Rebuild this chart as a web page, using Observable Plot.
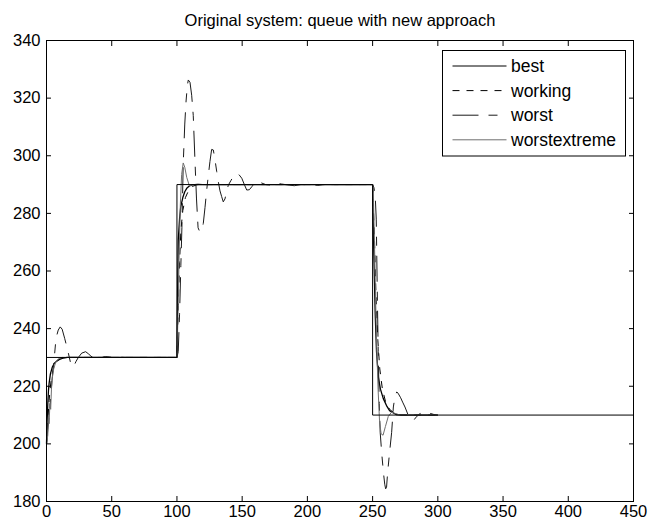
<!DOCTYPE html>
<html>
<head>
<meta charset="utf-8">
<script src="https://cdn.jsdelivr.net/npm/d3@7"></script>
<script src="https://cdn.jsdelivr.net/npm/@observablehq/plot@0.6"></script>
<style>
  html, body { margin: 0; padding: 0; background: #fff; }
  #chart { width: 651px; height: 524px; }
</style>
</head>
<body>
<div id="chart"></div>
<script>
// ---------- data ----------
const chartTitle = "Original system: queue with new approach";
const xTicks = [0, 50, 100, 150, 200, 250, 300, 350, 400, 450];
const yTicks = [180, 200, 220, 240, 260, 280, 300, 320, 340];
const seriesNames = ["best", "working", "worst", "worstextreme"];

// reference set-point (unlabelled fifth line)
const referencePts = [[0, 230], [100, 230], [100, 290], [250, 290], [250, 210], [450, 210]];

const bestPts = [
  [0, 200], [0.5, 208], [1, 214], [1.5, 218.5], [2, 221], [3, 224.3], [4.5, 226.7], [6, 228],
  [8, 228.8], [10, 229.3], [13, 229.8], [16, 230], [100, 230],
  [100.5, 252], [101, 270.7], [102, 278], [102.9, 282.3], [104.5, 285.5], [106, 287.5],
  [107.5, 288.7], [109.5, 289.5], [112.5, 290], [250, 290],
  [251, 265], [252, 245], [253, 232], [254.4, 223.2], [256, 219], [258.2, 215.7], [261, 213],
  [263, 211.5], [265.9, 210.7], [268, 210.2], [272, 210], [300, 210]
];

const workingPts = [
  [0, 200], [1, 208], [2, 215], [3, 220], [4, 223.5], [5.5, 226.5], [7.5, 228.5], [10, 229.5],
  [14, 230], [100, 230],
  [101, 248], [102, 263], [103, 274], [104.5, 281], [106.5, 285.5], [109, 288], [112, 289.4],
  [116, 290], [250, 290],
  [251.5, 270], [252.7, 250], [254, 236], [255.5, 226], [257.5, 219], [260, 214.5], [263, 212],
  [266.5, 210.7], [271, 210], [300, 210]
];

const worstPts = [
  [0, 200], [1, 205], [2.5, 212], [4.2, 222], [5.9, 229.6], [7.3, 236.7], [9, 239.5], [10.5, 240.6],
  [12, 239.8], [14, 236.5], [16.5, 232], [18.5, 228], [19.8, 226.7], [21, 227], [22.5, 228.5],
  [24.4, 230], [27, 231.5], [30, 232], [32, 231.3], [34, 230.5], [36, 229.8], [38, 229.6],
  [41, 229.9], [45, 230.3], [48, 230.2], [52, 229.9], [56, 230.1], [60, 230], [100, 230],
  [101, 232], [102, 245], [103, 262], [103.8, 275], [104.8, 297], [106, 311], [107, 319],
  [108, 324.5], [108.7, 326.3], [110, 325.5], [111.3, 321], [112.5, 314], [113.8, 298.5],
  [115, 285], [116.2, 275], [117.5, 273.6], [119, 274], [120.2, 276.5], [121.5, 282],
  [122.8, 288.1], [124.1, 293.3], [125.3, 298], [126.6, 302.2], [127.9, 302], [129.2, 298.5],
  [130.5, 294.5], [131.7, 291], [133, 287.8], [134.3, 285.8], [135.5, 284], [136.8, 285],
  [138, 287.5], [139.4, 289.8], [141.5, 291.5], [143.5, 293], [145.8, 293.9], [147.8, 293.3],
  [149.7, 292.2], [151.5, 290.2], [153.5, 288.1], [155.5, 288.2], [157.5, 289.3], [159.5, 290.6],
  [161.2, 291], [164, 290.7], [168, 290], [172, 289.8], [176, 290.5], [180, 290.2], [186, 289.8],
  [190, 289.6], [195, 290], [203, 290], [208, 289.7], [212, 290], [250, 290],
  [251, 289], [252, 286], [252.8, 278], [253.5, 255], [254.3, 232], [255.1, 214], [255.8, 204],
  [257, 196.7], [258.3, 190], [259.3, 186], [260, 184.4], [260.7, 185], [261.5, 190], [263, 197],
  [264.6, 204], [265.9, 212.8], [267.2, 216.5], [268.5, 218], [269.5, 217.6], [271.5, 216],
  [273, 214.5], [274.8, 212.8], [277, 210.3], [278.5, 208.8], [280, 208.2], [282, 208.5],
  [284, 209.6], [286.3, 210.5], [289, 210.9], [291, 211], [294, 210.6], [297, 210.2], [300, 210]
];

const worstExtremePts = [
  [0, 200], [1, 203], [1.5, 210], [2, 207], [2.6, 214], [3.2, 212], [3.8, 219], [4.5, 223],
  [5.5, 226], [7, 228.3], [9, 229.5], [12, 230], [100, 230],
  [100.8, 245], [101.7, 266], [102.6, 283], [103.6, 293.5], [104.8, 297.5], [106, 296],
  [107.5, 292.5], [109.5, 289.6], [112, 289.9], [116, 290.2], [120, 290], [250, 290],
  [250.7, 284], [251.5, 268], [252.3, 250], [253.2, 233], [254.2, 219], [255.3, 208],
  [256.5, 203.5], [258, 203], [259.8, 206], [262, 209.5], [264.5, 211], [267, 210.6],
  [271, 210], [300, 210]
];

// ---------- styles ----------
const styles = {
  reference:    {stroke: "#000", strokeWidth: 1, dash: null},
  best:         {stroke: "#000", strokeWidth: 1.3, dash: null},
  working:      {stroke: "#000", strokeWidth: 1, dash: "7,7"},
  worst:        {stroke: "#1a1a1a", strokeWidth: 1, dash: "26,10,9,10"},
  worstextreme: {stroke: "#6e6e6e", strokeWidth: 1, dash: null}
};

const seriesData = {
  best: bestPts, working: workingPts, worst: worstPts, worstextreme: worstExtremePts
};

const FONT = "'Liberation Sans', Arial, Helvetica, sans-serif";

function lineMark(pts, st) {
  return Plot.line(pts, {
    x: d => d[0], y: d => d[1],
    stroke: st.stroke, strokeWidth: st.strokeWidth,
    strokeDasharray: st.dash ?? undefined,
    strokeLinejoin: "round", strokeLinecap: "butt"
  });
}

const chart = Plot.plot({
  width: 651,
  height: 524,
  marginLeft: 46,
  marginRight: 18,
  marginTop: 40,
  marginBottom: 23,
  style: {fontFamily: FONT, fontSize: "16.5px", color: "#000", background: "#fff", overflow: "visible"},
  x: {domain: [0, 450], ticks: xTicks, label: null},
  y: {domain: [180, 340], ticks: yTicks, label: null},
  marks: [
    ...seriesNames.map(n => lineMark(seriesData[n], styles[n])),
    lineMark(referencePts, styles.reference),
    Plot.frame({stroke: "#000", strokeWidth: 1}),
    Plot.axisX(xTicks, {anchor: "bottom", tickSize: -5, tickPadding: 9, label: null}),
    Plot.axisX(xTicks, {anchor: "top", tickSize: -5, tickFormat: () => "", label: null}),
    Plot.axisY(yTicks, {anchor: "left", tickSize: -5, tickPadding: 11, label: null}),
    Plot.axisY(yTicks, {anchor: "right", tickSize: -5, tickFormat: () => "", label: null}),
    Plot.text([chartTitle], {frameAnchor: "top", dy: -20, fontSize: 16.5, lineAnchor: "middle", fill: "#000"})
  ]
});

// ---------- legend (drawn inside the plot's SVG) ----------
const svg = d3.select(chart);
const lg = svg.append("g").attr("font-family", FONT).attr("font-size", 17.5).attr("text-anchor", "start");
const box = {x: 442.5, y: 50.5, w: 183, h: 105.5};
lg.append("rect").attr("x", box.x).attr("y", box.y).attr("width", box.w).attr("height", box.h)
  .attr("fill", "#fff").attr("stroke", "#000").attr("stroke-width", 1);
seriesNames.forEach((name, i) => {
  const yy = 66 + i * 24.6;
  const st = styles[name];
  lg.append("line").attr("x1", 452.5).attr("x2", 506.5).attr("y1", yy).attr("y2", yy)
    .attr("stroke", st.stroke).attr("stroke-width", 1)
    .attr("stroke-dasharray", st.dash);
  lg.append("text").attr("x", 511).attr("y", yy).attr("dy", "0.35em")
    .attr("text-anchor", "start").attr("fill", "#000").text(name);
});

document.getElementById("chart").appendChild(chart);
</script>
</body>
</html>
